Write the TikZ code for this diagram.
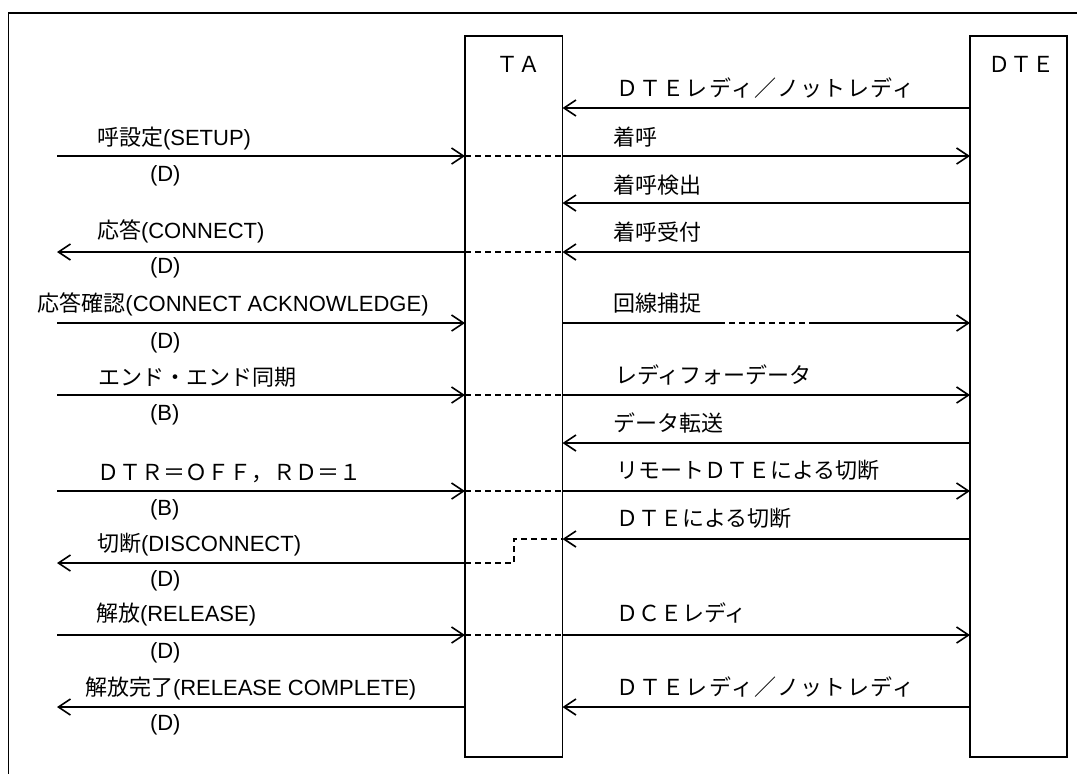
\documentclass[tikz,border=0pt]{standalone}
\usepackage{fontspec}
\setmainfont{Liberation Sans}
\newfontfamily\jp{Noto Sans CJK JP}
\usetikzlibrary{arrows.meta}
\begin{document}
\begin{tikzpicture}[x=1pt,y=-1pt,
  every node/.style={font=\fontsize{22}{26}\selectfont, inner sep=0pt, outer sep=0pt},
  lbl/.style={anchor=base west},
  ln/.style={line width=1.6pt},
  msg/.style={ln, -{Straight Barb[length=12pt,width=16pt]}},
  dsh/.style={ln, dash pattern=on 6pt off 4pt},
  lifebox/.style={draw, line width=1.8pt, anchor=north west, minimum height=721pt}]
\useasboundingbox (0,0) rectangle (1077,774);
\clip (0,0) rectangle (1077,774);
\draw[line width=1.6pt] (8.5,13) rectangle (1100,800);
% lifelines
\node[lifebox, minimum width=97.5pt] (ta) at (465,36) {};
\node[lifebox, minimum width=97pt] (dte) at (970,36) {};
\node[lbl] (talbl) at (496,72) {\jp ＴＡ};
\node[lbl] (dtelbl) at (988,72) {\jp ＤＴＥ};
% row coordinates
\coordinate (L) at (57,0);
\foreach \n/\y in {s1/156,s2/252,s3/323,s4/395,s5/491,s6/563,s7/635,s8/707,
  ra/108,rb/156,rc/203,rd/252,re/323,rf/395,rg/443,rh/491,ri/539,rj/635,rk/707}
  \coordinate (\n) at (0,\y);
\coordinate (stp) at (514,551);
\coordinate (e1) at (719,323);
\coordinate (e2) at (815,323);
% left side messages
\draw[msg] (L |- s1) -- (ta.west |- s1);
\draw[msg] (ta.west |- s2) -- (L |- s2);
\draw[msg] (L |- s3) -- (ta.west |- s3);
\draw[msg] (L |- s4) -- (ta.west |- s4);
\draw[msg] (L |- s5) -- (ta.west |- s5);
\draw[msg] (ta.west |- s6) -- (L |- s6);
\draw[msg] (L |- s7) -- (ta.west |- s7);
\draw[msg] (ta.west |- s8) -- (L |- s8);
% dashed links through TA
\draw[dsh] (ta.west |- s1) -- (ta.east |- s1);
\draw[dsh] (ta.west |- s2) -- (ta.east |- s2);
\draw[dsh] (ta.west |- s4) -- (ta.east |- s4);
\draw[dsh] (ta.west |- s5) -- (ta.east |- s5);
\draw[dsh] (ta.west |- s7) -- (ta.east |- s7);
\draw[dsh] (ta.west |- s6) -| (stp) |- (ta.east |- ri);
% right side messages
\draw[msg] (dte.west |- ra) -- (ta.east |- ra);
\draw[msg] (ta.east |- rb) -- (dte.west |- rb);
\draw[msg] (dte.west |- rc) -- (ta.east |- rc);
\draw[msg] (dte.west |- rd) -- (ta.east |- rd);
\draw[ln] (ta.east |- re) -- (e1);
\draw[dsh] (e1) -- (e2);
\draw[msg] (e2) -- (dte.west |- re);
\draw[msg] (ta.east |- rf) -- (dte.west |- rf);
\draw[msg] (dte.west |- rg) -- (ta.east |- rg);
\draw[msg] (ta.east |- rh) -- (dte.west |- rh);
\draw[msg] (dte.west |- ri) -- (ta.east |- ri);
\draw[msg] (ta.east |- rj) -- (dte.west |- rj);
\draw[msg] (dte.west |- rk) -- (ta.east |- rk);
% left labels
\node[lbl] (l1) at (97,145) {{\jp 呼設定}(SETUP)};
\node[lbl] (l2) at (97,238) {{\jp 応答}(CONNECT)};
\node[lbl] (l3) at (37.5,311) {{\jp 応答確認}(CONNECT ACKNOWLEDGE)};
\node[lbl] (l4) at (98,385) {\jp エンド・エンド同期};
\node[lbl] (l5) at (97,480) {\jp ＤＴＲ＝ＯＦＦ，ＲＤ＝１};
\node[lbl] (l6) at (97,551) {{\jp 切断}(DISCONNECT)};
\node[lbl] (l7) at (96,621) {{\jp 解放}(RELEASE)};
\node[lbl] (l8) at (85,695) {{\jp 解放完了}(RELEASE COMPLETE)};
\node[lbl] (c1) at (150,181) {(D)};
\node[lbl] (c2) at (150,273) {(D)};
\node[lbl] (c3) at (150,348) {(D)};
\node[lbl] (c4) at (150,420) {(B)};
\node[lbl] (c5) at (150,515) {(B)};
\node[lbl] (c6) at (150,586) {(D)};
\node[lbl] (c7) at (150,658) {(D)};
\node[lbl] (c8) at (150,730) {(D)};
% right labels
\node[lbl] (m1) at (616,96) {\jp\addfontfeature{LetterSpace=6}ＤＴＥレディ／ノットレディ};
\node[lbl] (m2) at (613,145) {\jp 着呼};
\node[lbl] (m3) at (613,193) {\jp 着呼検出};
\node[lbl] (m4) at (613,240) {\jp 着呼受付};
\node[lbl] (m5) at (613,311) {\jp 回線捕捉};
\node[lbl] (m6) at (615,383) {\jp レディフォーデータ};
\node[lbl] (m7) at (613,431) {\jp データ転送};
\node[lbl] (m8) at (616,478) {\jp リモートＤＴＥによる切断};
\node[lbl] (m9) at (616,526) {\jp ＤＴＥによる切断};
\node[lbl] (m10) at (616,621) {\jp ＤＣＥレディ};
\node[lbl] (m11) at (616,695) {\jp\addfontfeature{LetterSpace=6}ＤＴＥレディ／ノットレディ};
\end{tikzpicture}
\end{document}
